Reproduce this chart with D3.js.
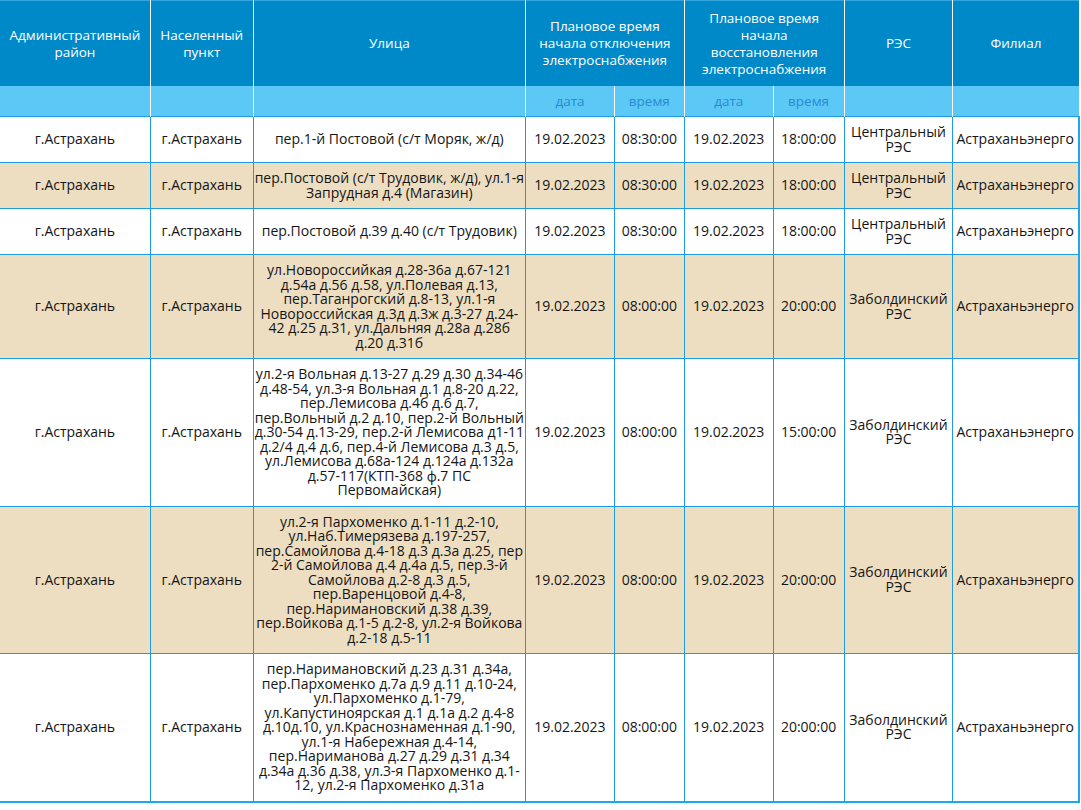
<!DOCTYPE html>
<html>
<head>
<meta charset="utf-8">
<script src="https://cdn.jsdelivr.net/npm/d3@7"></script>
<style>
  html, body { margin: 0; padding: 0; background: #fff; }
  body { width: 1081px; height: 810px; overflow: hidden; position: relative; }
  table {
    position: absolute; left: -1px; top: 0;
    border-collapse: collapse; table-layout: fixed;
    font-family: "Open Sans", sans-serif; font-size: 14px;
    border-top: 1px solid #33a6e0;
  }
  th {
    color: #fff; font-weight: normal; text-align: center; vertical-align: middle;
    font-size: 13.5px; line-height: 17px; padding: 0 3px;
    border-left: 1px solid #fff; border-right: 1px solid #fff;
  }
  tr.top th { background: #0089c8; height: 85px; }
  tr.sub th { background: #5bc8f5; height: 30px; color: #2a8ad0; }
  td {
    color: #151515; text-align: center; vertical-align: middle;
    line-height: 14.5px; padding: 8px 3px;
    border: 1px solid #1e9ce3;
  }
  td.street { padding-left: 1px; padding-right: 1px; }
  tbody tr { height: 44px; }
  tbody tr:nth-child(even) td { background: #eddec2; }
  td.left { text-align: left; padding-left: 3px; }
  tbody tr:last-child td { border-bottom: 2px solid #17aaf0; }
  td:last-child { border-right: 2px solid #17aaf0; }
</style>
</head>
<body>
<script>
// header labels
var headTop = ["Административный район", "Населенный пункт", "Улица",
    "Плановое время начала отключения электроснабжения",
    "Плановое время начала восстановления электроснабжения", "РЭС", "Филиал"];
var headSub = ["", "", "", "дата", "время", "дата", "время", "", ""];

// table data, one entry per row
var districts = ["г.Астрахань", "г.Астрахань", "г.Астрахань", "г.Астрахань", "г.Астрахань", "г.Астрахань", "г.Астрахань"];
var settlements = ["г.Астрахань", "г.Астрахань", "г.Астрахань", "г.Астрахань", "г.Астрахань", "г.Астрахань", "г.Астрахань"];
var streets = [
    "пер.1-й Постовой (с/т Моряк, ж/д)",
    "пер.Постовой (с/т Трудовик, ж/д), ул.1-я Запрудная д.4 (Магазин)",
    "пер.Постовой д.39 д.40 (с/т Трудовик)",
    "ул.Новороссийкая д.28-36а д.67-121 д.54а д.56 д.58, ул.Полевая д.13, пер.Таганрогский д.8-13, ул.1-я Новороссийская д.3д д.3ж д.3-27 д.24-42 д.25 д.31, ул.Дальняя д.28а д.28б д.20 д.31б",
    "ул.2-я Вольная д.13-27 д.29 д.30 д.34-46 д.48-54, ул.3-я Вольная д.1 д.8-20 д.22, пер.Лемисова д.4б д.6 д.7, пер.Вольный д.2 д.10, пер.2-й Вольный д.30-54 д.13-29, пер.2-й Лемисова д1-11 д.2/4 д.4 д.6, пер.4-й Лемисова д.3 д.5, ул.Лемисова д.68а-124 д.124а д.132а д.57-117(КТП-368 ф.7 ПС Первомайская)",
    "ул.2-я Пархоменко д.1-11 д.2-10, ул.Наб.Тимерязева д.197-257, пер.Самойлова д.4-18 д.3 д.3а д.25, пер 2-й Самойлова д.4 д.4а д.5, пер.3-й Самойлова д.2-8 д.3 д.5, пер.Варенцовой д.4-8, пер.Наримановский д.38 д.39, пер.Войкова д.1-5 д.2-8, ул.2-я Войкова д.2-18 д.5-11",
    "пер.Наримановский д.23 д.31 д.34а, пер.Пархоменко д.7а д.9 д.11 д.10-24, ул.Пархоменко д.1-79, ул.Капустиноярская д.1 д.1а д.2 д.4-8 д.10д.10, ул.Краснознаменная д.1-90, ул.1-я Набережная д.4-14, пер.Нариманова д.27 д.29 д.31 д.34 д.34а д.36 д.38, ул.3-я Пархоменко д.1-12, ул.2-я Пархоменко д.31а"
];
var offDates = ["19.02.2023", "19.02.2023", "19.02.2023", "19.02.2023", "19.02.2023", "19.02.2023", "19.02.2023"];
var offTimes = ["08:30:00", "08:30:00", "08:30:00", "08:00:00", "08:00:00", "08:00:00", "08:00:00"];
var onDates = ["19.02.2023", "19.02.2023", "19.02.2023", "19.02.2023", "19.02.2023", "19.02.2023", "19.02.2023"];
var onTimes = ["18:00:00", "18:00:00", "18:00:00", "20:00:00", "15:00:00", "20:00:00", "20:00:00"];
var resNames = ["Центральный РЭС", "Центральный РЭС", "Центральный РЭС", "Заболдинский РЭС",
    "Заболдинский РЭС", "Заболдинский РЭС", "Заболдинский РЭС"];
var branches = ["Астраханьэнерго", "Астраханьэнерго", "Астраханьэнерго", "Астраханьэнерго",
    "Астраханьэнерго", "Астраханьэнерго", "Астраханьэнерго"];

// column widths
var colWidths = [151, 103, 274, 89, 70, 89, 71, 109, 126];

var table = d3.select("body").append("table");

table.append("colgroup")
    .selectAll("col")
    .data(colWidths)
    .enter().append("col")
    .style("width", function(d) { return d + "px"; });

var thead = table.append("thead");

thead.append("tr")
    .attr("class", "top")
    .selectAll("th")
    .data(headTop)
    .enter().append("th")
    .attr("colspan", function(d, i) { return (i == 3 || i == 4) ? 2 : 1; })
    .text(function(d) { return d; });

thead.append("tr")
    .attr("class", "sub")
    .selectAll("th")
    .data(headSub)
    .enter().append("th")
    .text(function(d) { return d; });

// build rows from the separate columns
var rows = districts.map(function(d, i) {
    return [districts[i], settlements[i], streets[i], offDates[i], offTimes[i],
        onDates[i], onTimes[i], resNames[i], branches[i]];
});

table.append("tbody")
    .selectAll("tr")
    .data(rows)
    .enter().append("tr")
    .selectAll("td")
    .data(function(d) { return d; })
    .enter().append("td")
    .attr("class", function(d, i) { return i == 8 ? "left" : (i == 2 ? "street" : null); })
    .text(function(d) { return d; });
</script>
</body>
</html>
